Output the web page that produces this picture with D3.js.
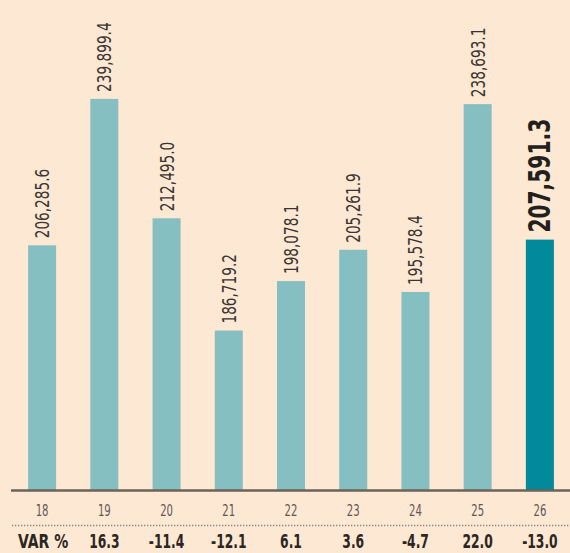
<!DOCTYPE html>
<html><head><meta charset="utf-8">
<script src="https://cdn.jsdelivr.net/npm/d3@7"></script>
<style>
html,body{margin:0;padding:0;background:#fde8d3;}
svg{display:block;}
text{font-family:"DejaVu Sans Condensed","Liberation Sans Narrow",sans-serif;}
</style></head>
<body>
<svg id="chart" width="570" height="553"></svg>
<script>
const years = ["18","19","20","21","22","23","24","25","26"];
const values = [206285.6, 239899.4, 212495.0, 186719.2, 198078.1, 205261.9, 195578.4, 238693.1, 207591.3];
const varPct = ["16.3","-11.4","-12.1","6.1","3.6","-4.7","22.0","-13.0"];
const valueLabels = ["206,285.6","239,899.4","212,495.0","186,719.2","198,078.1","205,261.9","195,578.4","238,693.1","207,591.3"];
const varLabel = "VAR %";

const svg = d3.select("#chart");
const baseY = 490.5;

const x = d3.scaleBand().domain(years).range([11, 571]).paddingInner(0.55).paddingOuter(0.275);
const y = d3.scaleLinear().domain([150000, 262600]).range([baseY, 0]);
const last = years.length - 1;

svg.append("g").selectAll("rect").data(values).join("rect")
  .attr("x", (d,i)=>x(years[i]))
  .attr("width", x.bandwidth())
  .attr("y", d=>y(d))
  .attr("height", d=>baseY - y(d))
  .attr("fill", (d,i)=> i===last ? "#03899c" : "#86bfc1");

svg.append("g").selectAll("text").data(values).join("text")
  .attr("transform", (d,i)=>`translate(${x(years[i]) + x.bandwidth()/2 + (i===last?10:7)},${y(d)-7}) rotate(-90) scale(${i===last?0.75:0.76},1)`)
  .attr("text-anchor","start")
  .attr("font-size", (d,i)=> i===last ? 30 : 20)
  .attr("font-weight", (d,i)=> i===last ? "bold" : "normal")
  .attr("fill", (d,i)=> i===last ? "#231f1c" : "#3a3532")
  .text((d,i)=>valueLabels[i]);

// baseline
svg.append("line").attr("x1",11).attr("x2",570).attr("y1",baseY).attr("y2",baseY)
  .attr("stroke","#6b6358").attr("stroke-width",2.5);

// year axis
const xAxis = d3.axisBottom(x).tickSize(0).tickPadding(0);
const gx = svg.append("g").attr("transform",`translate(0,${516})`).call(xAxis);
gx.select(".domain").remove();
gx.selectAll("text").attr("font-size",16.5).attr("fill","#5d5752").attr("dy",0)
  .attr("transform","scale(0.68,1)")
  .style("font-family",'"DejaVu Sans Condensed",sans-serif');

// dotted line
svg.append("line").attr("x1",12).attr("x2",570).attr("y1",525.5).attr("y2",525.5)
  .attr("stroke","#8a847c").attr("stroke-width",1.3).attr("stroke-dasharray","1.3,1.7");

// VAR row
svg.append("text").attr("transform","translate(18,548) scale(0.82,1)").attr("font-size",19).attr("font-weight","bold")
  .attr("fill","#2b2622").text(varLabel);
svg.append("g").selectAll("text").data(varPct).join("text")
  .attr("transform",(d,i)=>`translate(${x(years[i+1]) + x.bandwidth()/2},548) scale(0.72,1)`)
  .attr("text-anchor","middle")
  .attr("font-size",19).attr("font-weight","bold").attr("fill","#2b2622")
  .text(d=>d);
</script>
</body></html>
